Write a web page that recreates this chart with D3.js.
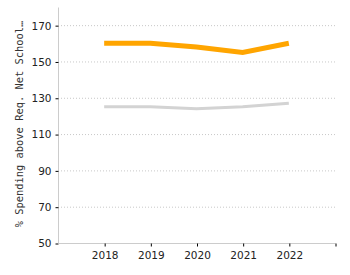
<!DOCTYPE html>
<html>
<head>
<meta charset="utf-8">
<script src="https://cdn.jsdelivr.net/npm/d3@7"></script>
<style>
  body { margin: 0; background: #fff; }
  text { font-family: "DejaVu Sans", Verdana, sans-serif; }
</style>
</head>
<body>
<svg id="chart" width="350" height="275"></svg>
<script>
let years = [2018, 2019, 2020, 2021, 2022];
let seriesOrange = [160, 160, 158, 155, 160];
let seriesGray = [125, 125, 124, 125, 127];
let yTicks = [50, 70, 90, 110, 130, 150, 170];
let yLabel = "% Spending above Req. Net School\u2026";

let svg = d3.select("#chart");

let x = d3.scaleLinear()
  .domain([2017, 2023])
  .range([58, 335]);

let y = d3.scaleLinear()
  .domain([50, 180])
  .range([243, 7]);

// gridlines
svg.append("g")
  .selectAll("line")
  .data(yTicks.slice(1))
  .enter()
  .append("line")
  .attr("x1", 58)
  .attr("x2", 335)
  .attr("y1", d => y(d) + 0.5)
  .attr("y2", d => y(d) + 0.5)
  .style("stroke", "#c8c8c8")
  .style("stroke-dasharray", "1,2");

// y axis
let yAxis = svg.append("g")
  .attr("transform", "translate(58.5,0.5)")
  .call(d3.axisLeft(y).tickValues(yTicks).tickSize(3).tickPadding(4));
yAxis.select(".domain").style("stroke", "#ccc").attr("d", "M0," + y(50) + "V" + y(180));
yAxis.selectAll(".tick line").style("stroke", "#000");
yAxis.selectAll("text").style("font-size", "10.5px").style("fill", "#222");

// x axis
let xAxis = svg.append("g")
  .attr("transform", "translate(0.5," + (y(50) + 0.5) + ")")
  .call(d3.axisBottom(x)
    .tickValues([2018, 2019, 2020, 2021, 2022, 2023])
    .tickFormat(d => years.includes(d) ? d : "")
    .tickSize(3).tickPadding(5));
xAxis.select(".domain").style("stroke", "#ccc").attr("d", "M58,0H335");
xAxis.selectAll(".tick line").style("stroke", "#000");
xAxis.selectAll("text").style("font-size", "10.5px").style("fill", "#222");

// y label
svg.append("text")
  .attr("transform", "translate(23,124) rotate(-90)")
  .attr("text-anchor", "middle")
  .style("font-family", "'DejaVu Sans Mono', monospace")
  .style("font-size", "10.4px")
  .style("fill", "#333")
  .text(yLabel);

let line = d3.line()
  .x((d, i) => x(years[i]))
  .y(d => y(d));

svg.append("path")
  .datum(seriesGray)
  .attr("d", line)
  .style("fill", "none")
  .style("stroke", "#d3d3d3")
  .style("stroke-width", 3);

svg.append("path")
  .datum(seriesOrange)
  .attr("d", line)
  .style("fill", "none")
  .style("stroke", "#ffa500")
  .style("stroke-width", 5);
</script>
</body>
</html>
